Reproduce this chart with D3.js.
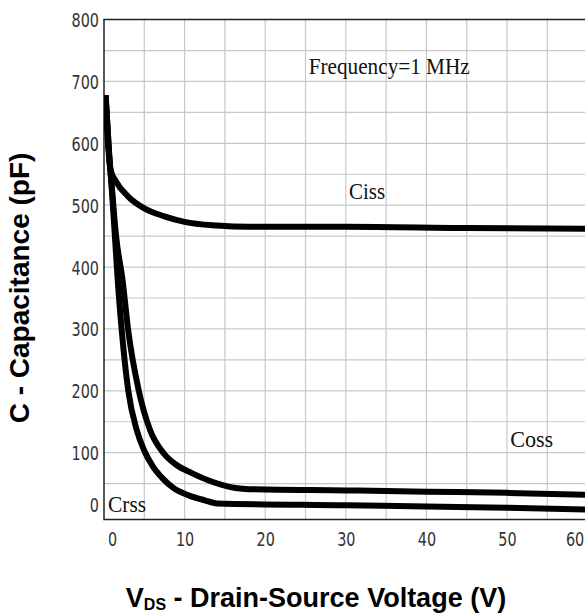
<!DOCTYPE html>
<html>
<head>
<meta charset="utf-8">
<script src="https://cdn.jsdelivr.net/npm/d3@7"></script>
<style>
  body { margin: 0; background: #fff; }
  svg { display: block; }
</style>
</head>
<body>
<div id="chart"></div>
<script>
// values (V in volts, C in pF)
var cissV = [0.2, 0.5, 0.8, 1.5, 3, 5, 7.5, 10, 14, 18, 30, 45, 60];
var cissC = [678, 600, 558, 538, 514, 495, 482, 473, 467, 465, 465, 463, 462];

var cossV = [0.2, 0.6, 1.0, 1.5, 2.3, 3.0, 4.3, 5.7, 7.4, 9, 10.9, 13, 16.3, 18, 30, 40, 50, 60];
var cossC = [678, 590, 525, 450, 379, 298, 201, 137, 99, 80, 67, 55, 43, 41, 39, 37, 35, 32];

var crssV = [0.2, 0.6, 1.0, 1.4, 1.7, 2.2, 3.0, 4.05, 5, 6.1, 7.3, 8.6, 10.5, 12.5, 14, 30, 40, 50, 60];
var crssC = [678, 590, 520, 440, 379, 298, 201, 137, 103, 77, 58, 43, 31, 23, 18, 15, 13, 11, 8];

var xTicks = [0, 10, 20, 30, 40, 50, 60];
var yTicks = [0, 100, 200, 300, 400, 500, 600, 700, 800];

var svgWidth = 585;
var svgHeight = 614;

var x = d3.scaleLinear().domain([0, 60]).range([104, 587.6]);
var y = d3.scaleLinear().domain([-8.2, 800]).range([519.6, 19.6]);

var svg = d3.select("#chart")
  .append("svg")
  .attr("width", svgWidth)
  .attr("height", svgHeight);

svg.append("clipPath").attr("id", "plot")
  .append("rect")
  .attr("x", x(0)).attr("y", y(800))
  .attr("width", svgWidth - x(0)).attr("height", y(-8.2) - y(800));

// grid
svg.append("g").selectAll("line")
  .data(d3.range(5, 60, 5))
  .enter().append("line")
  .attr("x1", function(d) { return x(d); })
  .attr("x2", function(d) { return x(d); })
  .attr("y1", y(800)).attr("y2", y(-8.2))
  .attr("stroke", "#c8c8c8").attr("stroke-width", 1.2);

svg.append("g").selectAll("line")
  .data(d3.range(50, 800, 50))
  .enter().append("line")
  .attr("x1", x(0)).attr("x2", svgWidth)
  .attr("y1", function(d) { return y(d); })
  .attr("y2", function(d) { return y(d); })
  .attr("stroke", "#c8c8c8").attr("stroke-width", 1.2);

// frame
svg.append("path")
  .attr("d", "M" + svgWidth + "," + y(800) + "H" + x(0) + "V" + y(-8.2) + "H" + svgWidth)
  .attr("fill", "none").attr("stroke", "#222").attr("stroke-width", 1.5);

// axes labels (stretched a bit vertically like the scan)
var tickFont = "'DejaVu Sans Condensed', 'Liberation Sans', sans-serif";

var yAxis = svg.append("g")
  .attr("transform", "translate(" + x(0) + ",0)")
  .call(d3.axisLeft(y).tickValues(yTicks).tickSize(0).tickPadding(5));
yAxis.select(".domain").remove();
yAxis.selectAll("text")
  .attr("font-family", tickFont).attr("font-size", 16).attr("fill", "#333")
  .attr("transform", "scale(1,1.22)")
  .attr("dy", function(d) { return d === 0 ? "-0.15em" : "0.36em"; });

var xAxis = svg.append("g")
  .attr("transform", "translate(0," + y(-8.2) + ")")
  .call(d3.axisBottom(x).tickValues(xTicks).tickSize(0).tickPadding(10));
xAxis.select(".domain").remove();
xAxis.selectAll("text")
  .attr("font-family", tickFont).attr("font-size", 16).attr("fill", "#333")
  .attr("transform", "scale(1,1.22)")
  .attr("dx", function(d) { return d === 0 ? 8 : d === 60 ? -13 : 0; });

// curves
var line = d3.line()
  .x(function(d) { return x(d[0]); })
  .y(function(d) { return y(d[1]); })
  .curve(d3.curveMonotoneX);

var series = [d3.zip(cissV, cissC), d3.zip(cossV, cossC), d3.zip(crssV, crssC)];

svg.append("g").attr("clip-path", "url(#plot)")
  .selectAll("path")
  .data(series)
  .enter().append("path")
  .attr("d", line)
  .attr("fill", "none")
  .attr("stroke", "#000")
  .attr("stroke-width", 6)
  .attr("stroke-linejoin", "round");

// notes
var notes = [
  { t: "Frequency=1 MHz", v: 25.4, c: 712, w: 161 },
  { t: "Ciss", v: 30.4, c: 510, w: 36 },
  { t: "Coss", v: 50.4, c: 109, w: 43 },
  { t: "Crss", v: 0.5, c: 4, w: 38 }
];
svg.append("g").selectAll("text")
  .data(notes)
  .enter().append("text")
  .attr("x", function(d) { return x(d.v); })
  .attr("y", function(d) { return y(d.c); })
  .attr("font-family", "'Liberation Serif', 'Times New Roman', serif")
  .attr("font-size", 24)
  .attr("fill", "#111")
  .attr("textLength", function(d) { return d.w; })
  .attr("lengthAdjust", "spacingAndGlyphs")
  .text(function(d) { return d.t; });

// titles
svg.append("text")
  .attr("transform", "translate(29,288) rotate(-90)")
  .attr("text-anchor", "middle")
  .attr("font-family", "'Liberation Sans', Arial, sans-serif")
  .attr("font-weight", "bold")
  .attr("font-size", 28)
  .text("C - Capacitance (pF)");

var xt = svg.append("text")
  .attr("x", 316).attr("y", 607)
  .attr("text-anchor", "middle")
  .attr("font-family", "'Liberation Sans', Arial, sans-serif")
  .attr("font-weight", "bold")
  .attr("font-size", 27);
xt.append("tspan").text("V");
xt.append("tspan").attr("font-size", 16).attr("dy", 3).text("DS");
xt.append("tspan").attr("dy", -3).text(" - Drain-Source Voltage (V)");
</script>
</body>
</html>
